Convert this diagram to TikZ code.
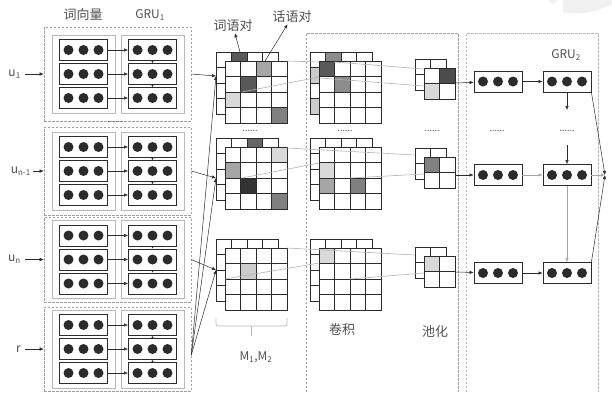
\documentclass[tikz,border=0pt]{standalone}
\usepackage{fontspec}
\setmainfont{Noto Sans CJK SC}
\usetikzlibrary{arrows.meta}
\definecolor{cdark}{HTML}{2B2B2B}
\definecolor{cgrey}{HTML}{505050}
\tikzset{
  every picture/.style={line width=0.6pt},
  vec/.style={draw=cdark, line width=0.8pt, minimum width=48pt, minimum height=21pt, inner sep=0pt},
  inbox/.style={draw=gray!55, line width=0.8pt, minimum width=63pt, minimum height=78pt, inner sep=0pt},
  blk/.style={draw=gray!75, dash pattern=on 2.5pt off 1.5pt, line width=0.6pt},
  arr/.style={-{Latex[length=4pt,width=3.5pt]}, draw=cdark, line width=0.5pt},
  garr/.style={-{Latex[length=2.5pt,width=3pt]}, draw=cdark, line width=0.5pt},
  garrup/.style={{Latex[length=2.5pt,width=3pt]}-, draw=cdark, line width=0.5pt},
  link/.style={draw=gray!60, line width=0.6pt},
  cellline/.style={draw=cdark, line width=0.7pt},
  lbl/.style={text=cgrey, font=\fontsize{12}{13}\selectfont, inner sep=2pt},
  cjk/.style={text=cgrey, font=\fontsize{13}{14}\selectfont, inner sep=1pt},
  dots/.style={text=cgrey, font=\fontsize{9}{9}\selectfont, inner sep=0pt},
}
% one vector: a box with three dots
\newcommand{\vecrow}[3]{%
  \node[vec] (#1) at ({#2},{#3}) {};
  \foreach \dx in {-15,0,15}
    \fill[cdark] ([xshift=\dx pt]#1.center) circle (5pt);
}
% one utterance: word vectors and GRU_1
\newcommand{\uttblock}[4]{%
  \node[blk, minimum width=147pt, minimum height=2*#3pt] (#1) at (117.5,#2) {};
  \node[inbox] (#1-wi) at (83.5,#2) {};
  \node[inbox] (#1-gi) at (152.5,#2) {};
  \foreach \k/\dy in {1/-24,2/0,3/24} {
    \vecrow{#1-w\k}{83.5}{#2+(\dy)}
    \vecrow{#1-g\k}{152.5}{#2+(\dy)}
    \draw[arr] (#1-w\k) -- (#1-g\k);
  }
  \draw[#4] (#1-g1) -- (#1-g2);
  \draw[#4] (#1-g2) -- (#1-g3);
}
% square grid of cells, top left at (#1,#2)
\newcommand{\cells}[4]{%
  \foreach \i in {1,...,#3} \foreach \j in {1,...,#3}
    \draw[cellline, fill=white] ({#1+15.5*(\i-1)},{#2+15.5*(\j-1)}) rectangle ++(15.5,15.5);
  \foreach \i/\j/\c in {#4}
    \draw[cellline, fill=\c] ({#1+15.5*(\i-1)},{#2+15.5*(\j-1)}) rectangle ++(15.5,15.5);
}
\newcommand{\mstack}[5]{%
  \cells{#1}{#2}{#3}{#4}
  \cells{#1+9}{#2+9}{#3}{#5}
}

\begin{document}
\begin{tikzpicture}[x=1pt, y=-1pt]
  \useasboundingbox (0,0) rectangle (612,392);
  \fill[gray!12] (563,0) -- (563,12) .. controls (580,16) and (600,11) .. (612,4) -- (612,0) -- cycle;
  \fill[gray!12] (548,0) -- (553,4) -- (558,0) -- cycle;

  % utterances
  \uttblock{b1}{74}{47}{garr}
  \uttblock{b2}{171}{44}{garr}
  \uttblock{b3}{259.5}{42.5}{garr}
  \uttblock{b4}{349}{42}{garrup}
  \node[cjk] (wv) at (83,15) {词向量};
  \node[lbl] (gru1) at (150,15) {GRU\textsubscript{1}};
  \node[dots] (bd) at (115,122) {......};
  \node[lbl, anchor=east, inner sep=4pt] (lu1) at (25,74) {u\textsubscript{1}};
  \node[lbl, anchor=east, inner sep=2pt] (lun1) at (33,171) {u\textsubscript{n-1}};
  \node[lbl, anchor=east, inner sep=4pt] (lun) at (25,259.5) {u\textsubscript{n}};
  \node[lbl, anchor=east, inner sep=4pt] (lr) at (25,349) {r};
  \draw[arr] (lu1) -- (b1);
  \draw[arr] (lun1) -- (b2);
  \draw[arr] (lun) -- (b3);
  \draw[arr] (lr) -- (b4);

  % regions
  \draw[blk] (306,392) -- (306,33) -- (458,33) -- (458,392);
  \draw[blk, draw=gray!55] (466,392) -- (466,33) -- (598,33) -- (598,392);

  % matching matrices, convolution, pooling
  \mstack{216}{52}{4}{2/1/black!65}{3/1/black!35, 2/2/black!65, 1/3/black!15, 4/4/black!50}
  \mstack{216}{138}{4}{3/1/black!60}{4/1/black!15, 1/2/black!35, 2/3/black!80, 4/4/black!50}
  \mstack{216}{239}{4}{1/1/white}{2/2/black!20}
  \mstack{310}{52}{4}{2/1/black!45, 1/2/black!20, 1/4/black!20}{1/1/black!65, 2/2/black!45}
  \mstack{310}{138}{4}{1/1/white}{1/2/black!15, 1/3/black!35, 3/3/black!50}
  \mstack{310}{239}{4}{1/1/white}{1/1/black!15}
  \mstack{415}{59}{2}{1/1/white}{2/1/black!70, 1/2/black!15}
  \mstack{415}{148}{2}{1/1/white}{1/1/black!50}
  \mstack{415}{247}{2}{1/1/white}{1/1/black!15}

  \foreach \nm/\x/\y in {a1/287/61, a2/319/62, a3/242/92, a4/319/77, a5/334/62, a6/424/69,
      a7/320/78, a8/424/86, c1/287/148, c2/415/155, c3/242/178, c4/319/163, c5/350/178,
      c6/424/174, e1/287/248, e2/415/255, e3/225/279, e4/319/263, e5/350/279, e6/424/273}
    \coordinate (\nm) at (\x,\y);
  \foreach \s/\t in {a1/a2, a3/a4, a5/a6, a7/a8, c1/c2, c3/c4, c5/c6, e1/e2, e3/e4, e5/e6}
    \draw[link] (\s) -- (\t);

  \coordinate (M1in) at (216,76);
  \coordinate (M2in) at (216,178);
  \coordinate (M3in) at (216,270);
  \draw[arr] (b1.east) -- (M1in);
  \draw[arr] (b2.east) -- (M2in);
  \draw[arr] (b3.east) -- (M3in);
  \foreach \m in {M1in, M2in, M3in}
    \draw[arr] ([yshift=-6pt]b4.east) -- (\m);

  \node[cjk] (wp) at (233,26) {词语对};
  \node[cjk] (sp) at (292,17) {话语对};
  \coordinate (wpc) at (240,52);
  \coordinate (spc) at (265,61);
  \draw[arr] (wpc) -- (wp);
  \draw[arr] (spc) -- (sp);

  \draw[draw=gray!55, line width=0.8pt, rounded corners=2pt] (216,318) -- (216,326) -- (287,326) -- (287,318);
  \draw[draw=gray!55, line width=0.8pt] (251.5,326) -- (251.5,336);
  \node[lbl] (mlbl) at (256,357) {M\textsubscript{1},M\textsubscript{2}};
  \node[cjk] (conv) at (342,330) {卷积};
  \node[cjk] (pool) at (435,332) {池化};
  \foreach \x in {250,345,432,497,567}
    \node[dots] at (\x,131) {......};

  % GRU_2
  \node[lbl] (gru2) at (566,55) {GRU\textsubscript{2}};
  \vecrow{p1a}{498}{81.5}
  \vecrow{p1b}{567}{81.5}
  \vecrow{p2a}{498}{175}
  \vecrow{p2b}{567}{175}
  \vecrow{p3a}{498}{273}
  \vecrow{p3b}{567}{273}
  \coordinate (q1) at (455,83);
  \coordinate (q2) at (455,175);
  \coordinate (q3) at (455,272);
  \draw[arr] (q1) -- (p1a);
  \draw[arr] (q2) -- (p2a);
  \draw[arr] (q3) -- (p3a);
  \draw[arr] (p1a) -- (p1b);
  \draw[arr, draw=gray!70] (p2a) -- (p2b);
  \draw[arr] (p3a) -- (p3b);
  \coordinate (d1) at (567,110);
  \coordinate (d2) at (567,145);
  \draw[arr] (p1b) -- (d1);
  \draw[arr] (d2) -- (p2b);
  \draw[arr, draw=gray!70] (p2b) -- (p3b);
  \coordinate (out) at (605,175);
  \draw[arr] (p1b.south east) -- (out);
  \draw[arr] (p3b.north east) -- (out);
  \draw[arr, draw=gray!70] (p2b) -- (out);
\end{tikzpicture}
\end{document}
